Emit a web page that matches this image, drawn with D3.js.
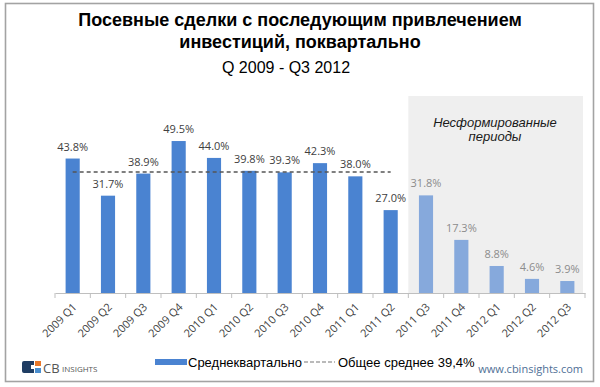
<!DOCTYPE html>
<html>
<head>
<meta charset="utf-8">
<script src="https://cdn.jsdelivr.net/npm/d3@7"></script>
<style>
  body { margin: 0; background: #fff; }
  svg { display: block; }
</style>
</head>
<body>
<div id="chart-container"></div>
<script>
// Data.
const quarters = ["2009 Q1", "2009 Q2", "2009 Q3", "2009 Q4", "2010 Q1", "2010 Q2", "2010 Q3", "2010 Q4",
    "2011 Q1", "2011 Q2", "2011 Q3", "2011 Q4", "2012 Q1", "2012 Q2", "2012 Q3"];
const values = [43.8, 31.7, 38.9, 49.5, 44.0, 39.8, 39.3, 42.3, 38.0, 27.0, 31.8, 17.3, 8.8, 4.6, 3.9];
// Quarters that are not yet "formed" (drawn lighter on a gray background).
const unformed = ["2011 Q3", "2011 Q4", "2012 Q1", "2012 Q2", "2012 Q3"];
const overallAverage = 39.4;
const titleLines = ["Посевные сделки с последующим привлечением", "инвестиций, поквартально"];
const subtitle = "Q 2009 - Q3 2012";
const legendLabels = ["Среднеквартально", "Общее среднее 39,4%"];
const unformedLabel = ["Несформированные", "периоды"];

const width = 600;
const height = 387;
const marginLeft = 55;
const marginRight = 15;
const baseline = 293;

const darkBlue = "#4a83d1";
const lightBlue = "#86a9dc";

const data = quarters.map((q, i) => ({q: q, v: values[i], unformed: unformed.includes(q)}));

const x = d3.scaleBand()
    .domain(quarters)
    .range([marginLeft, width - marginRight])
    .paddingInner(0.6)
    .paddingOuter(0.3);

const y = d3.scaleLinear()
    .domain([0, 50])
    .range([baseline, 139.5]);

const center = q => x(q) + x.bandwidth() / 2;
const boundary = i => x.range()[0] + i * x.step();

const svg = d3.select("#chart-container").append("svg")
    .attr("width", width)
    .attr("height", height);

svg.append("rect")
    .attr("width", width)
    .attr("height", height)
    .attr("fill", "#fff");

// Outer frame.
svg.append("rect")
    .attr("x", 5.5)
    .attr("y", 3.5)
    .attr("width", 588)
    .attr("height", 378)
    .attr("fill", "none")
    .attr("stroke", "#a3a3a3")
    .attr("stroke-width", 1.6);

// Title.
svg.selectAll(".title")
    .data(titleLines)
    .enter()
    .append("text")
    .attr("class", "title")
    .attr("x", 300)
    .attr("y", (d, i) => 26 + i * 22)
    .attr("text-anchor", "middle")
    .attr("font-family", "Liberation Sans, Arial, sans-serif")
    .attr("font-weight", "bold")
    .attr("font-size", 18)
    .attr("fill", "#000")
    .text(d => d);

svg.append("text")
    .attr("x", 286)
    .attr("y", 73)
    .attr("text-anchor", "middle")
    .attr("font-family", "Liberation Sans, Arial, sans-serif")
    .attr("font-size", 16)
    .attr("fill", "#000")
    .text(subtitle);

// Gray band behind unformed quarters.
const firstUnformed = quarters.indexOf(unformed[0]);
svg.append("rect")
    .attr("x", boundary(firstUnformed))
    .attr("y", 96)
    .attr("width", boundary(quarters.length) - boundary(firstUnformed) - 2)
    .attr("height", baseline - 96)
    .attr("fill", "#efefef");

svg.selectAll(".unformed-label")
    .data(unformedLabel)
    .enter()
    .append("text")
    .attr("class", "unformed-label")
    .attr("x", 495)
    .attr("y", (d, i) => 127 + i * 14)
    .attr("text-anchor", "middle")
    .attr("font-family", "Liberation Sans, Arial, sans-serif")
    .attr("font-style", "italic")
    .attr("font-size", 13)
    .attr("fill", "#1a1a1a")
    .text(d => d);

// Bars.
svg.selectAll(".bar")
    .data(data)
    .enter()
    .append("rect")
    .attr("class", "bar")
    .attr("x", d => x(d.q))
    .attr("y", d => y(d.v))
    .attr("width", x.bandwidth())
    .attr("height", d => y(0) - y(d.v))
    .attr("fill", d => d.unformed ? lightBlue : darkBlue);

// Value labels.
svg.selectAll(".value")
    .data(data)
    .enter()
    .append("text")
    .attr("class", "value")
    .attr("x", d => center(d.q))
    .attr("y", d => y(d.v) - 8)
    .attr("text-anchor", "middle")
    .attr("font-family", "Open Sans, sans-serif")
    .attr("font-size", 11)
    .attr("fill", d => d.unformed ? "#8c8c8c" : "#404040")
    .text(d => d.v.toFixed(1) + "%");

// Overall average line across the formed quarters.
const formed = data.filter(d => !d.unformed);
svg.append("line")
    .attr("x1", center(formed[0].q))
    .attr("x2", center(formed[formed.length - 1].q))
    .attr("y1", y(overallAverage))
    .attr("y2", y(overallAverage))
    .attr("stroke", "#555")
    .attr("stroke-width", 1.5)
    .attr("stroke-dasharray", "4,3");

// x-axis with tick marks between categories.
const xAxis = svg.append("g")
    .attr("transform", `translate(0, ${baseline})`)
    .call(d3.axisBottom(x).tickSize(0).tickSizeOuter(0));

xAxis.select(".domain")
    .attr("stroke", "#bfbfbf");

xAxis.selectAll(".tick text")
    .attr("font-family", "Open Sans, sans-serif")
    .attr("font-size", 11)
    .attr("fill", "#404040")
    .attr("text-anchor", "end")
    .attr("y", 0)
    .attr("dy", "0.35em")
    .attr("transform", "translate(2, 12) rotate(-45)");

xAxis.selectAll(".boundary")
    .data(d3.range(quarters.length + 1))
    .enter()
    .append("line")
    .attr("class", "boundary")
    .attr("x1", i => boundary(i))
    .attr("x2", i => boundary(i))
    .attr("y1", 0)
    .attr("y2", 5)
    .attr("stroke", "#bfbfbf");

// Legend.
const legend = svg.append("g");
legend.append("rect")
    .attr("x", 155)
    .attr("y", 359)
    .attr("width", 32)
    .attr("height", 6)
    .attr("fill", darkBlue);
legend.append("text")
    .attr("x", 188)
    .attr("y", 367)
    .attr("font-family", "Liberation Sans, Arial, sans-serif")
    .attr("font-size", 13)
    .attr("fill", "#000")
    .text(legendLabels[0]);
legend.append("line")
    .attr("x1", 304)
    .attr("x2", 335)
    .attr("y1", 362)
    .attr("y2", 362)
    .attr("stroke", "#777")
    .attr("stroke-width", 1.2)
    .attr("stroke-dasharray", "4,2");
legend.append("text")
    .attr("x", 338)
    .attr("y", 367)
    .attr("font-family", "Liberation Sans, Arial, sans-serif")
    .attr("font-size", 13)
    .attr("fill", "#000")
    .text(legendLabels[1]);

// CB Insights logo.
const logo = svg.append("g");
logo.append("path")
    .attr("d", "M24 361 H34 V365 H31 V369 H34 V373 H24 Q22 373 22 371 V363 Q22 361 24 361 Z")
    .attr("fill", "#1f3d63");
logo.append("rect")
    .attr("x", 35).attr("y", 361).attr("width", 6).attr("height", 5)
    .attr("fill", "#e8782a");
logo.append("rect")
    .attr("x", 35).attr("y", 368).attr("width", 6).attr("height", 5)
    .attr("fill", "#4b8fcf");
logo.append("text")
    .attr("x", 43)
    .attr("y", 373)
    .attr("font-family", "Open Sans, sans-serif")
    .attr("font-size", 13)
    .attr("fill", "#555")
    .text("CB");
logo.append("text")
    .attr("x", 62)
    .attr("y", 372)
    .attr("font-family", "Open Sans, sans-serif")
    .attr("font-size", 8)
    .attr("fill", "#555")
    .text("INSIGHTS");

svg.append("text")
    .attr("x", 583)
    .attr("y", 373)
    .attr("text-anchor", "end")
    .attr("font-family", "Open Sans, sans-serif")
    .attr("font-size", 11)
    .attr("fill", "#4f6f96")
    .text("www.cbinsights.com");
</script>
</body>
</html>
